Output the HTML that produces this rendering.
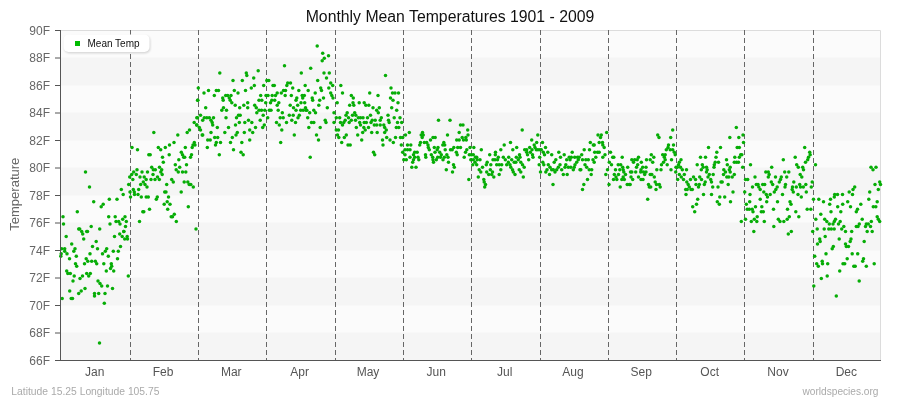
<!DOCTYPE html>
<html><head><meta charset="utf-8"><title>Monthly Mean Temperatures 1901 - 2009</title>
<style>
html,body{margin:0;padding:0;background:#fff;}
body{width:900px;height:400px;overflow:hidden;font-family:"Liberation Sans",sans-serif;}
svg{display:block}
text{font-family:"Liberation Sans",sans-serif;}
.yl{font-size:12px;fill:#666;text-anchor:end}
.xl{font-size:12px;fill:#555;text-anchor:middle}
.pt circle{fill:#06ad06}
</style></head><body>
<svg width="900" height="400" viewBox="0 0 900 400">
<rect x="0" y="0" width="900" height="400" fill="#ffffff"/>

<rect x="61" y="30.5" width="820" height="330" fill="#fbfbfb"/>
<rect x="61" y="57.5" width="820" height="28" fill="#f5f5f5"/>
<rect x="61" y="112.5" width="820" height="28" fill="#f5f5f5"/>
<rect x="61" y="167.5" width="820" height="28" fill="#f5f5f5"/>
<rect x="61" y="222.5" width="820" height="28" fill="#f5f5f5"/>
<rect x="61" y="277.5" width="820" height="28" fill="#f5f5f5"/>
<rect x="61" y="332.5" width="820" height="28" fill="#f5f5f5"/>
<path d="M61 30.5H880.5V360" fill="none" stroke="#dcdcdc" stroke-width="1"/>
<line x1="130.5" y1="30" x2="130.5" y2="360" stroke="#666" stroke-width="1" stroke-dasharray="5,3"/>
<line x1="198.5" y1="30" x2="198.5" y2="360" stroke="#666" stroke-width="1" stroke-dasharray="5,3"/>
<line x1="266.5" y1="30" x2="266.5" y2="360" stroke="#666" stroke-width="1" stroke-dasharray="5,3"/>
<line x1="335.5" y1="30" x2="335.5" y2="360" stroke="#666" stroke-width="1" stroke-dasharray="5,3"/>
<line x1="403.5" y1="30" x2="403.5" y2="360" stroke="#666" stroke-width="1" stroke-dasharray="5,3"/>
<line x1="471.5" y1="30" x2="471.5" y2="360" stroke="#666" stroke-width="1" stroke-dasharray="5,3"/>
<line x1="540.5" y1="30" x2="540.5" y2="360" stroke="#666" stroke-width="1" stroke-dasharray="5,3"/>
<line x1="608.5" y1="30" x2="608.5" y2="360" stroke="#666" stroke-width="1" stroke-dasharray="5,3"/>
<line x1="676.5" y1="30" x2="676.5" y2="360" stroke="#666" stroke-width="1" stroke-dasharray="5,3"/>
<line x1="744.5" y1="30" x2="744.5" y2="360" stroke="#666" stroke-width="1" stroke-dasharray="5,3"/>
<line x1="813.5" y1="30" x2="813.5" y2="360" stroke="#666" stroke-width="1" stroke-dasharray="5,3"/>
<defs><filter id="sh" x="-10%" y="-30%" width="120%" height="170%"><feGaussianBlur stdDeviation="0.9"/></filter></defs>
<rect x="64.3" y="35.8" width="86" height="17.5" rx="5" fill="#000" opacity="0.16" filter="url(#sh)"/>
<rect x="63.5" y="34.5" width="86" height="17.5" rx="5" fill="#fff"/>
<rect x="75" y="41" width="5" height="5" fill="#00bb00"/>
<text x="87.5" y="46.7" font-size="10" fill="#111">Mean Temp</text>
<g class="pt">
<circle cx="132.0" cy="147.4" r="1.75"/>
<circle cx="137.5" cy="149.8" r="1.75"/>
<circle cx="148.8" cy="154.8" r="1.75"/>
<circle cx="150.2" cy="154.8" r="1.75"/>
<circle cx="153.8" cy="132.5" r="1.75"/>
<circle cx="158.3" cy="147.4" r="1.75"/>
<circle cx="160.7" cy="149.8" r="1.75"/>
<circle cx="162.5" cy="157.3" r="1.75"/>
<circle cx="163.3" cy="162.2" r="1.75"/>
<circle cx="165.3" cy="147.4" r="1.75"/>
<circle cx="169.2" cy="154.8" r="1.75"/>
<circle cx="169.5" cy="144.9" r="1.75"/>
<circle cx="174.0" cy="142.4" r="1.75"/>
<circle cx="177.8" cy="135.0" r="1.75"/>
<circle cx="175.3" cy="164.7" r="1.75"/>
<circle cx="178.8" cy="159.8" r="1.75"/>
<circle cx="181.3" cy="152.3" r="1.75"/>
<circle cx="182.5" cy="154.8" r="1.75"/>
<circle cx="183.7" cy="157.3" r="1.75"/>
<circle cx="184.7" cy="157.3" r="1.75"/>
<circle cx="185.3" cy="147.4" r="1.75"/>
<circle cx="186.5" cy="164.7" r="1.75"/>
<circle cx="187.2" cy="132.5" r="1.75"/>
<circle cx="189.5" cy="130.1" r="1.75"/>
<circle cx="190.5" cy="157.3" r="1.75"/>
<circle cx="191.5" cy="154.8" r="1.75"/>
<circle cx="192.2" cy="147.4" r="1.75"/>
<circle cx="193.0" cy="144.9" r="1.75"/>
<circle cx="194.3" cy="142.4" r="1.75"/>
<circle cx="195.0" cy="144.9" r="1.75"/>
<circle cx="194.2" cy="122.6" r="1.75"/>
<circle cx="196.7" cy="125.1" r="1.75"/>
<circle cx="197.5" cy="117.7" r="1.75"/>
<circle cx="197.7" cy="100.3" r="1.75"/>
<circle cx="85.5" cy="172.1" r="1.75"/>
<circle cx="89.5" cy="187.0" r="1.75"/>
<circle cx="93.7" cy="201.8" r="1.75"/>
<circle cx="63.0" cy="216.7" r="1.75"/>
<circle cx="63.5" cy="224.1" r="1.75"/>
<circle cx="77.3" cy="211.7" r="1.75"/>
<circle cx="78.7" cy="229.1" r="1.75"/>
<circle cx="79.7" cy="229.1" r="1.75"/>
<circle cx="81.7" cy="231.5" r="1.75"/>
<circle cx="87.5" cy="231.5" r="1.75"/>
<circle cx="91.2" cy="226.6" r="1.75"/>
<circle cx="99.7" cy="229.1" r="1.75"/>
<circle cx="101.2" cy="206.8" r="1.75"/>
<circle cx="103.2" cy="204.3" r="1.75"/>
<circle cx="109.3" cy="199.3" r="1.75"/>
<circle cx="108.7" cy="216.7" r="1.75"/>
<circle cx="110.0" cy="224.1" r="1.75"/>
<circle cx="115.2" cy="216.7" r="1.75"/>
<circle cx="116.0" cy="221.6" r="1.75"/>
<circle cx="117.0" cy="199.3" r="1.75"/>
<circle cx="118.7" cy="221.6" r="1.75"/>
<circle cx="120.0" cy="224.1" r="1.75"/>
<circle cx="121.3" cy="189.4" r="1.75"/>
<circle cx="122.7" cy="219.2" r="1.75"/>
<circle cx="123.2" cy="194.4" r="1.75"/>
<circle cx="123.8" cy="231.5" r="1.75"/>
<circle cx="125.0" cy="216.7" r="1.75"/>
<circle cx="125.5" cy="226.6" r="1.75"/>
<circle cx="126.3" cy="221.6" r="1.75"/>
<circle cx="128.7" cy="184.5" r="1.75"/>
<circle cx="129.7" cy="177.1" r="1.75"/>
<circle cx="130.0" cy="191.9" r="1.75"/>
<circle cx="130.5" cy="196.9" r="1.75"/>
<circle cx="131.7" cy="174.6" r="1.75"/>
<circle cx="133.7" cy="172.1" r="1.75"/>
<circle cx="132.8" cy="179.6" r="1.75"/>
<circle cx="133.3" cy="189.4" r="1.75"/>
<circle cx="134.3" cy="191.9" r="1.75"/>
<circle cx="134.5" cy="194.4" r="1.75"/>
<circle cx="136.3" cy="174.6" r="1.75"/>
<circle cx="137.0" cy="169.7" r="1.75"/>
<circle cx="138.0" cy="194.4" r="1.75"/>
<circle cx="138.7" cy="189.4" r="1.75"/>
<circle cx="140.0" cy="177.1" r="1.75"/>
<circle cx="140.7" cy="184.5" r="1.75"/>
<circle cx="141.3" cy="196.9" r="1.75"/>
<circle cx="142.0" cy="172.1" r="1.75"/>
<circle cx="143.3" cy="182.0" r="1.75"/>
<circle cx="144.2" cy="177.1" r="1.75"/>
<circle cx="145.0" cy="184.5" r="1.75"/>
<circle cx="146.2" cy="179.6" r="1.75"/>
<circle cx="146.2" cy="196.9" r="1.75"/>
<circle cx="147.0" cy="187.0" r="1.75"/>
<circle cx="147.5" cy="172.1" r="1.75"/>
<circle cx="148.3" cy="196.9" r="1.75"/>
<circle cx="151.0" cy="179.6" r="1.75"/>
<circle cx="151.7" cy="167.2" r="1.75"/>
<circle cx="153.0" cy="174.6" r="1.75"/>
<circle cx="153.3" cy="169.7" r="1.75"/>
<circle cx="155.0" cy="179.6" r="1.75"/>
<circle cx="155.3" cy="169.7" r="1.75"/>
<circle cx="157.5" cy="177.1" r="1.75"/>
<circle cx="159.3" cy="179.6" r="1.75"/>
<circle cx="159.5" cy="167.2" r="1.75"/>
<circle cx="160.8" cy="172.1" r="1.75"/>
<circle cx="161.7" cy="169.7" r="1.75"/>
<circle cx="162.2" cy="174.6" r="1.75"/>
<circle cx="149.5" cy="209.2" r="1.75"/>
<circle cx="142.8" cy="211.7" r="1.75"/>
<circle cx="143.8" cy="211.7" r="1.75"/>
<circle cx="139.5" cy="221.6" r="1.75"/>
<circle cx="156.3" cy="199.3" r="1.75"/>
<circle cx="157.3" cy="196.9" r="1.75"/>
<circle cx="164.7" cy="191.9" r="1.75"/>
<circle cx="166.0" cy="191.9" r="1.75"/>
<circle cx="166.7" cy="184.5" r="1.75"/>
<circle cx="168.5" cy="196.9" r="1.75"/>
<circle cx="167.2" cy="201.8" r="1.75"/>
<circle cx="164.2" cy="204.3" r="1.75"/>
<circle cx="170.0" cy="204.3" r="1.75"/>
<circle cx="167.7" cy="209.2" r="1.75"/>
<circle cx="171.2" cy="216.7" r="1.75"/>
<circle cx="172.5" cy="216.7" r="1.75"/>
<circle cx="174.3" cy="214.2" r="1.75"/>
<circle cx="176.3" cy="221.6" r="1.75"/>
<circle cx="171.7" cy="179.6" r="1.75"/>
<circle cx="173.3" cy="182.0" r="1.75"/>
<circle cx="176.2" cy="169.7" r="1.75"/>
<circle cx="178.3" cy="172.1" r="1.75"/>
<circle cx="179.7" cy="167.2" r="1.75"/>
<circle cx="182.5" cy="172.1" r="1.75"/>
<circle cx="185.8" cy="172.1" r="1.75"/>
<circle cx="181.2" cy="191.9" r="1.75"/>
<circle cx="184.2" cy="182.0" r="1.75"/>
<circle cx="187.8" cy="182.0" r="1.75"/>
<circle cx="189.2" cy="184.5" r="1.75"/>
<circle cx="190.8" cy="184.5" r="1.75"/>
<circle cx="193.3" cy="187.0" r="1.75"/>
<circle cx="188.3" cy="206.8" r="1.75"/>
<circle cx="196.0" cy="229.1" r="1.75"/>
<circle cx="66.2" cy="236.5" r="1.75"/>
<circle cx="82.7" cy="234.0" r="1.75"/>
<circle cx="83.7" cy="238.9" r="1.75"/>
<circle cx="86.7" cy="231.5" r="1.75"/>
<circle cx="96.2" cy="241.4" r="1.75"/>
<circle cx="114.5" cy="236.5" r="1.75"/>
<circle cx="119.7" cy="234.0" r="1.75"/>
<circle cx="122.2" cy="236.5" r="1.75"/>
<circle cx="123.8" cy="231.5" r="1.75"/>
<circle cx="124.7" cy="238.9" r="1.75"/>
<circle cx="127.2" cy="236.5" r="1.75"/>
<circle cx="127.5" cy="238.9" r="1.75"/>
<circle cx="71.7" cy="243.9" r="1.75"/>
<circle cx="61.7" cy="248.8" r="1.75"/>
<circle cx="64.7" cy="248.8" r="1.75"/>
<circle cx="61.2" cy="253.8" r="1.75"/>
<circle cx="60.8" cy="256.3" r="1.75"/>
<circle cx="64.7" cy="251.3" r="1.75"/>
<circle cx="67.0" cy="253.8" r="1.75"/>
<circle cx="69.5" cy="258.8" r="1.75"/>
<circle cx="73.8" cy="251.3" r="1.75"/>
<circle cx="75.0" cy="248.8" r="1.75"/>
<circle cx="76.3" cy="256.3" r="1.75"/>
<circle cx="92.5" cy="246.4" r="1.75"/>
<circle cx="97.5" cy="248.8" r="1.75"/>
<circle cx="90.0" cy="253.8" r="1.75"/>
<circle cx="102.5" cy="253.8" r="1.75"/>
<circle cx="105.3" cy="251.3" r="1.75"/>
<circle cx="106.7" cy="248.8" r="1.75"/>
<circle cx="108.3" cy="256.3" r="1.75"/>
<circle cx="113.3" cy="251.3" r="1.75"/>
<circle cx="118.3" cy="251.3" r="1.75"/>
<circle cx="120.5" cy="246.4" r="1.75"/>
<circle cx="117.5" cy="258.8" r="1.75"/>
<circle cx="86.2" cy="258.8" r="1.75"/>
<circle cx="87.8" cy="261.2" r="1.75"/>
<circle cx="91.7" cy="261.2" r="1.75"/>
<circle cx="84.5" cy="263.7" r="1.75"/>
<circle cx="95.3" cy="261.2" r="1.75"/>
<circle cx="96.7" cy="263.7" r="1.75"/>
<circle cx="75.5" cy="263.7" r="1.75"/>
<circle cx="76.7" cy="266.2" r="1.75"/>
<circle cx="103.8" cy="263.7" r="1.75"/>
<circle cx="111.3" cy="263.7" r="1.75"/>
<circle cx="111.7" cy="266.2" r="1.75"/>
<circle cx="110.5" cy="268.6" r="1.75"/>
<circle cx="106.3" cy="271.1" r="1.75"/>
<circle cx="113.7" cy="271.1" r="1.75"/>
<circle cx="66.7" cy="271.1" r="1.75"/>
<circle cx="67.8" cy="273.6" r="1.75"/>
<circle cx="70.3" cy="273.6" r="1.75"/>
<circle cx="74.2" cy="276.1" r="1.75"/>
<circle cx="82.5" cy="276.1" r="1.75"/>
<circle cx="80.0" cy="278.6" r="1.75"/>
<circle cx="86.7" cy="273.6" r="1.75"/>
<circle cx="90.3" cy="273.6" r="1.75"/>
<circle cx="88.7" cy="276.1" r="1.75"/>
<circle cx="73.0" cy="281.0" r="1.75"/>
<circle cx="128.3" cy="276.1" r="1.75"/>
<circle cx="98.0" cy="281.0" r="1.75"/>
<circle cx="100.0" cy="283.5" r="1.75"/>
<circle cx="101.7" cy="286.0" r="1.75"/>
<circle cx="107.5" cy="286.0" r="1.75"/>
<circle cx="112.5" cy="288.4" r="1.75"/>
<circle cx="85.0" cy="288.4" r="1.75"/>
<circle cx="81.2" cy="290.9" r="1.75"/>
<circle cx="78.7" cy="293.4" r="1.75"/>
<circle cx="69.7" cy="290.9" r="1.75"/>
<circle cx="94.5" cy="293.4" r="1.75"/>
<circle cx="98.7" cy="293.4" r="1.75"/>
<circle cx="105.0" cy="293.4" r="1.75"/>
<circle cx="62.2" cy="298.4" r="1.75"/>
<circle cx="71.2" cy="298.4" r="1.75"/>
<circle cx="72.5" cy="298.4" r="1.75"/>
<circle cx="94.5" cy="295.9" r="1.75"/>
<circle cx="104.3" cy="303.3" r="1.75"/>
<circle cx="99.5" cy="342.9" r="1.75"/>
<circle cx="198.3" cy="88.0" r="1.75"/>
<circle cx="197.7" cy="100.3" r="1.75"/>
<circle cx="204.0" cy="92.9" r="1.75"/>
<circle cx="208.5" cy="90.5" r="1.75"/>
<circle cx="214.3" cy="95.4" r="1.75"/>
<circle cx="216.3" cy="90.5" r="1.75"/>
<circle cx="218.5" cy="90.5" r="1.75"/>
<circle cx="219.8" cy="73.1" r="1.75"/>
<circle cx="222.7" cy="97.9" r="1.75"/>
<circle cx="223.2" cy="100.3" r="1.75"/>
<circle cx="225.7" cy="95.4" r="1.75"/>
<circle cx="227.7" cy="95.4" r="1.75"/>
<circle cx="229.3" cy="97.9" r="1.75"/>
<circle cx="231.0" cy="95.4" r="1.75"/>
<circle cx="230.2" cy="100.3" r="1.75"/>
<circle cx="233.0" cy="80.5" r="1.75"/>
<circle cx="234.3" cy="90.5" r="1.75"/>
<circle cx="238.0" cy="92.9" r="1.75"/>
<circle cx="242.3" cy="80.5" r="1.75"/>
<circle cx="245.5" cy="90.5" r="1.75"/>
<circle cx="246.3" cy="73.1" r="1.75"/>
<circle cx="246.8" cy="75.6" r="1.75"/>
<circle cx="251.3" cy="88.0" r="1.75"/>
<circle cx="253.7" cy="78.1" r="1.75"/>
<circle cx="254.3" cy="85.5" r="1.75"/>
<circle cx="258.2" cy="70.7" r="1.75"/>
<circle cx="260.7" cy="95.4" r="1.75"/>
<circle cx="259.0" cy="100.3" r="1.75"/>
<circle cx="261.8" cy="100.3" r="1.75"/>
<circle cx="263.7" cy="85.5" r="1.75"/>
<circle cx="266.0" cy="95.4" r="1.75"/>
<circle cx="266.8" cy="80.5" r="1.75"/>
<circle cx="268.8" cy="80.5" r="1.75"/>
<circle cx="268.0" cy="95.4" r="1.75"/>
<circle cx="272.2" cy="95.4" r="1.75"/>
<circle cx="273.0" cy="85.5" r="1.75"/>
<circle cx="274.3" cy="85.5" r="1.75"/>
<circle cx="271.8" cy="100.3" r="1.75"/>
<circle cx="274.7" cy="100.3" r="1.75"/>
<circle cx="275.5" cy="95.4" r="1.75"/>
<circle cx="277.2" cy="92.9" r="1.75"/>
<circle cx="281.3" cy="92.9" r="1.75"/>
<circle cx="283.5" cy="90.5" r="1.75"/>
<circle cx="285.5" cy="90.5" r="1.75"/>
<circle cx="285.2" cy="95.4" r="1.75"/>
<circle cx="284.5" cy="65.7" r="1.75"/>
<circle cx="286.8" cy="85.5" r="1.75"/>
<circle cx="287.7" cy="83.0" r="1.75"/>
<circle cx="290.5" cy="83.0" r="1.75"/>
<circle cx="292.7" cy="88.0" r="1.75"/>
<circle cx="291.3" cy="95.4" r="1.75"/>
<circle cx="298.8" cy="90.5" r="1.75"/>
<circle cx="301.3" cy="73.1" r="1.75"/>
<circle cx="305.2" cy="85.5" r="1.75"/>
<circle cx="308.2" cy="90.5" r="1.75"/>
<circle cx="302.2" cy="95.4" r="1.75"/>
<circle cx="304.3" cy="95.4" r="1.75"/>
<circle cx="302.7" cy="97.9" r="1.75"/>
<circle cx="296.0" cy="100.3" r="1.75"/>
<circle cx="296.8" cy="97.9" r="1.75"/>
<circle cx="310.7" cy="68.2" r="1.75"/>
<circle cx="312.2" cy="97.9" r="1.75"/>
<circle cx="312.7" cy="100.3" r="1.75"/>
<circle cx="315.2" cy="92.9" r="1.75"/>
<circle cx="317.2" cy="45.9" r="1.75"/>
<circle cx="317.7" cy="80.5" r="1.75"/>
<circle cx="320.7" cy="88.0" r="1.75"/>
<circle cx="321.5" cy="90.5" r="1.75"/>
<circle cx="319.7" cy="100.3" r="1.75"/>
<circle cx="323.5" cy="97.9" r="1.75"/>
<circle cx="322.7" cy="53.3" r="1.75"/>
<circle cx="322.2" cy="60.8" r="1.75"/>
<circle cx="324.3" cy="58.3" r="1.75"/>
<circle cx="328.5" cy="55.8" r="1.75"/>
<circle cx="324.0" cy="73.1" r="1.75"/>
<circle cx="329.3" cy="73.1" r="1.75"/>
<circle cx="326.5" cy="78.1" r="1.75"/>
<circle cx="330.7" cy="83.0" r="1.75"/>
<circle cx="332.7" cy="85.5" r="1.75"/>
<circle cx="328.8" cy="88.0" r="1.75"/>
<circle cx="330.7" cy="92.9" r="1.75"/>
<circle cx="331.8" cy="95.4" r="1.75"/>
<circle cx="333.0" cy="97.9" r="1.75"/>
<circle cx="231.8" cy="102.8" r="1.75"/>
<circle cx="205.7" cy="107.8" r="1.75"/>
<circle cx="200.5" cy="115.2" r="1.75"/>
<circle cx="196.8" cy="117.7" r="1.75"/>
<circle cx="202.7" cy="120.2" r="1.75"/>
<circle cx="204.3" cy="117.7" r="1.75"/>
<circle cx="206.8" cy="117.7" r="1.75"/>
<circle cx="209.3" cy="117.7" r="1.75"/>
<circle cx="213.5" cy="117.7" r="1.75"/>
<circle cx="211.0" cy="120.2" r="1.75"/>
<circle cx="212.2" cy="122.6" r="1.75"/>
<circle cx="212.7" cy="125.1" r="1.75"/>
<circle cx="196.8" cy="125.1" r="1.75"/>
<circle cx="199.3" cy="127.6" r="1.75"/>
<circle cx="200.5" cy="130.1" r="1.75"/>
<circle cx="202.2" cy="135.0" r="1.75"/>
<circle cx="202.7" cy="135.0" r="1.75"/>
<circle cx="217.3" cy="127.6" r="1.75"/>
<circle cx="211.0" cy="132.5" r="1.75"/>
<circle cx="207.7" cy="139.9" r="1.75"/>
<circle cx="210.2" cy="139.9" r="1.75"/>
<circle cx="214.7" cy="137.5" r="1.75"/>
<circle cx="217.7" cy="137.5" r="1.75"/>
<circle cx="216.3" cy="142.4" r="1.75"/>
<circle cx="215.5" cy="144.9" r="1.75"/>
<circle cx="220.5" cy="142.4" r="1.75"/>
<circle cx="207.3" cy="147.4" r="1.75"/>
<circle cx="219.3" cy="154.8" r="1.75"/>
<circle cx="221.8" cy="110.2" r="1.75"/>
<circle cx="223.5" cy="107.8" r="1.75"/>
<circle cx="226.5" cy="110.2" r="1.75"/>
<circle cx="226.0" cy="117.7" r="1.75"/>
<circle cx="228.5" cy="127.6" r="1.75"/>
<circle cx="224.8" cy="132.5" r="1.75"/>
<circle cx="230.5" cy="142.4" r="1.75"/>
<circle cx="232.3" cy="137.5" r="1.75"/>
<circle cx="233.5" cy="149.8" r="1.75"/>
<circle cx="235.2" cy="105.3" r="1.75"/>
<circle cx="239.7" cy="107.8" r="1.75"/>
<circle cx="243.8" cy="105.3" r="1.75"/>
<circle cx="247.7" cy="102.8" r="1.75"/>
<circle cx="247.7" cy="107.8" r="1.75"/>
<circle cx="240.2" cy="115.2" r="1.75"/>
<circle cx="238.5" cy="115.2" r="1.75"/>
<circle cx="236.5" cy="117.7" r="1.75"/>
<circle cx="239.3" cy="122.6" r="1.75"/>
<circle cx="235.5" cy="125.1" r="1.75"/>
<circle cx="237.3" cy="132.5" r="1.75"/>
<circle cx="236.0" cy="135.0" r="1.75"/>
<circle cx="244.8" cy="122.6" r="1.75"/>
<circle cx="248.5" cy="120.2" r="1.75"/>
<circle cx="251.8" cy="122.6" r="1.75"/>
<circle cx="249.7" cy="130.1" r="1.75"/>
<circle cx="252.7" cy="132.5" r="1.75"/>
<circle cx="244.3" cy="132.5" r="1.75"/>
<circle cx="249.7" cy="139.9" r="1.75"/>
<circle cx="241.8" cy="142.4" r="1.75"/>
<circle cx="241.0" cy="152.3" r="1.75"/>
<circle cx="243.2" cy="154.8" r="1.75"/>
<circle cx="254.7" cy="105.3" r="1.75"/>
<circle cx="256.3" cy="107.8" r="1.75"/>
<circle cx="259.0" cy="110.2" r="1.75"/>
<circle cx="261.5" cy="110.2" r="1.75"/>
<circle cx="256.8" cy="112.7" r="1.75"/>
<circle cx="263.2" cy="115.2" r="1.75"/>
<circle cx="260.2" cy="120.2" r="1.75"/>
<circle cx="255.5" cy="127.6" r="1.75"/>
<circle cx="262.7" cy="127.6" r="1.75"/>
<circle cx="264.3" cy="125.1" r="1.75"/>
<circle cx="264.8" cy="110.2" r="1.75"/>
<circle cx="265.7" cy="102.8" r="1.75"/>
<circle cx="270.5" cy="102.8" r="1.75"/>
<circle cx="269.3" cy="110.2" r="1.75"/>
<circle cx="271.0" cy="110.2" r="1.75"/>
<circle cx="267.7" cy="117.7" r="1.75"/>
<circle cx="277.2" cy="105.3" r="1.75"/>
<circle cx="278.2" cy="110.2" r="1.75"/>
<circle cx="282.3" cy="112.7" r="1.75"/>
<circle cx="280.2" cy="117.7" r="1.75"/>
<circle cx="283.2" cy="117.7" r="1.75"/>
<circle cx="276.5" cy="122.6" r="1.75"/>
<circle cx="279.3" cy="125.1" r="1.75"/>
<circle cx="281.8" cy="130.1" r="1.75"/>
<circle cx="280.7" cy="142.4" r="1.75"/>
<circle cx="286.5" cy="122.6" r="1.75"/>
<circle cx="289.3" cy="115.2" r="1.75"/>
<circle cx="293.2" cy="115.2" r="1.75"/>
<circle cx="291.8" cy="120.2" r="1.75"/>
<circle cx="295.5" cy="122.6" r="1.75"/>
<circle cx="294.3" cy="135.0" r="1.75"/>
<circle cx="290.2" cy="105.3" r="1.75"/>
<circle cx="293.5" cy="107.8" r="1.75"/>
<circle cx="296.0" cy="110.2" r="1.75"/>
<circle cx="297.7" cy="105.3" r="1.75"/>
<circle cx="299.3" cy="115.2" r="1.75"/>
<circle cx="298.0" cy="117.7" r="1.75"/>
<circle cx="301.0" cy="102.8" r="1.75"/>
<circle cx="300.7" cy="110.2" r="1.75"/>
<circle cx="303.2" cy="110.2" r="1.75"/>
<circle cx="305.5" cy="107.8" r="1.75"/>
<circle cx="306.0" cy="110.2" r="1.75"/>
<circle cx="306.8" cy="110.2" r="1.75"/>
<circle cx="304.7" cy="102.8" r="1.75"/>
<circle cx="309.7" cy="112.7" r="1.75"/>
<circle cx="307.7" cy="117.7" r="1.75"/>
<circle cx="311.5" cy="122.6" r="1.75"/>
<circle cx="313.8" cy="122.6" r="1.75"/>
<circle cx="308.8" cy="127.6" r="1.75"/>
<circle cx="310.2" cy="157.3" r="1.75"/>
<circle cx="313.8" cy="110.2" r="1.75"/>
<circle cx="315.5" cy="112.7" r="1.75"/>
<circle cx="318.8" cy="105.3" r="1.75"/>
<circle cx="320.2" cy="127.6" r="1.75"/>
<circle cx="316.5" cy="135.0" r="1.75"/>
<circle cx="318.5" cy="139.9" r="1.75"/>
<circle cx="325.2" cy="120.2" r="1.75"/>
<circle cx="326.0" cy="122.6" r="1.75"/>
<circle cx="327.3" cy="107.8" r="1.75"/>
<circle cx="334.0" cy="112.7" r="1.75"/>
<circle cx="334.0" cy="122.6" r="1.75"/>
<circle cx="340.8" cy="85.5" r="1.75"/>
<circle cx="342.5" cy="92.9" r="1.75"/>
<circle cx="337.2" cy="102.8" r="1.75"/>
<circle cx="385.5" cy="75.6" r="1.75"/>
<circle cx="391.0" cy="88.0" r="1.75"/>
<circle cx="392.5" cy="92.9" r="1.75"/>
<circle cx="395.0" cy="92.9" r="1.75"/>
<circle cx="398.5" cy="92.9" r="1.75"/>
<circle cx="369.7" cy="92.9" r="1.75"/>
<circle cx="378.0" cy="95.4" r="1.75"/>
<circle cx="351.3" cy="95.4" r="1.75"/>
<circle cx="353.3" cy="97.9" r="1.75"/>
<circle cx="390.5" cy="97.9" r="1.75"/>
<circle cx="393.0" cy="100.3" r="1.75"/>
<circle cx="398.0" cy="102.8" r="1.75"/>
<circle cx="359.2" cy="102.8" r="1.75"/>
<circle cx="364.2" cy="102.8" r="1.75"/>
<circle cx="365.8" cy="105.3" r="1.75"/>
<circle cx="368.8" cy="105.3" r="1.75"/>
<circle cx="353.0" cy="102.8" r="1.75"/>
<circle cx="353.8" cy="105.3" r="1.75"/>
<circle cx="349.7" cy="105.3" r="1.75"/>
<circle cx="373.0" cy="107.8" r="1.75"/>
<circle cx="379.3" cy="107.8" r="1.75"/>
<circle cx="376.7" cy="110.2" r="1.75"/>
<circle cx="378.3" cy="112.7" r="1.75"/>
<circle cx="391.7" cy="107.8" r="1.75"/>
<circle cx="396.7" cy="110.2" r="1.75"/>
<circle cx="347.2" cy="112.7" r="1.75"/>
<circle cx="346.0" cy="115.2" r="1.75"/>
<circle cx="354.7" cy="112.7" r="1.75"/>
<circle cx="352.5" cy="115.2" r="1.75"/>
<circle cx="355.8" cy="115.2" r="1.75"/>
<circle cx="370.5" cy="115.2" r="1.75"/>
<circle cx="388.0" cy="115.2" r="1.75"/>
<circle cx="394.2" cy="117.7" r="1.75"/>
<circle cx="400.0" cy="117.7" r="1.75"/>
<circle cx="336.3" cy="117.7" r="1.75"/>
<circle cx="339.7" cy="117.7" r="1.75"/>
<circle cx="348.5" cy="117.7" r="1.75"/>
<circle cx="358.3" cy="117.7" r="1.75"/>
<circle cx="360.5" cy="117.7" r="1.75"/>
<circle cx="363.0" cy="117.7" r="1.75"/>
<circle cx="367.5" cy="117.7" r="1.75"/>
<circle cx="381.3" cy="117.7" r="1.75"/>
<circle cx="380.2" cy="120.2" r="1.75"/>
<circle cx="372.2" cy="120.2" r="1.75"/>
<circle cx="375.2" cy="120.2" r="1.75"/>
<circle cx="388.5" cy="120.2" r="1.75"/>
<circle cx="389.2" cy="122.6" r="1.75"/>
<circle cx="351.3" cy="120.2" r="1.75"/>
<circle cx="355.5" cy="120.2" r="1.75"/>
<circle cx="345.2" cy="120.2" r="1.75"/>
<circle cx="343.8" cy="122.6" r="1.75"/>
<circle cx="340.5" cy="122.6" r="1.75"/>
<circle cx="342.5" cy="125.1" r="1.75"/>
<circle cx="349.2" cy="122.6" r="1.75"/>
<circle cx="359.7" cy="122.6" r="1.75"/>
<circle cx="360.5" cy="125.1" r="1.75"/>
<circle cx="364.2" cy="122.6" r="1.75"/>
<circle cx="366.3" cy="122.6" r="1.75"/>
<circle cx="371.0" cy="122.6" r="1.75"/>
<circle cx="374.3" cy="125.1" r="1.75"/>
<circle cx="376.7" cy="125.1" r="1.75"/>
<circle cx="380.2" cy="125.1" r="1.75"/>
<circle cx="383.8" cy="125.1" r="1.75"/>
<circle cx="397.5" cy="122.6" r="1.75"/>
<circle cx="401.7" cy="122.6" r="1.75"/>
<circle cx="438.5" cy="120.2" r="1.75"/>
<circle cx="450.0" cy="120.2" r="1.75"/>
<circle cx="460.5" cy="125.1" r="1.75"/>
<circle cx="463.0" cy="125.1" r="1.75"/>
<circle cx="336.3" cy="130.1" r="1.75"/>
<circle cx="338.5" cy="130.1" r="1.75"/>
<circle cx="337.5" cy="135.0" r="1.75"/>
<circle cx="338.8" cy="137.5" r="1.75"/>
<circle cx="341.7" cy="142.4" r="1.75"/>
<circle cx="346.3" cy="135.0" r="1.75"/>
<circle cx="344.3" cy="137.5" r="1.75"/>
<circle cx="348.0" cy="144.9" r="1.75"/>
<circle cx="350.2" cy="144.9" r="1.75"/>
<circle cx="356.3" cy="127.6" r="1.75"/>
<circle cx="357.7" cy="135.0" r="1.75"/>
<circle cx="361.7" cy="139.9" r="1.75"/>
<circle cx="362.7" cy="132.5" r="1.75"/>
<circle cx="363.8" cy="127.6" r="1.75"/>
<circle cx="365.2" cy="130.1" r="1.75"/>
<circle cx="368.5" cy="127.6" r="1.75"/>
<circle cx="371.7" cy="132.5" r="1.75"/>
<circle cx="377.2" cy="132.5" r="1.75"/>
<circle cx="373.5" cy="152.3" r="1.75"/>
<circle cx="374.7" cy="154.8" r="1.75"/>
<circle cx="382.5" cy="139.9" r="1.75"/>
<circle cx="383.0" cy="144.9" r="1.75"/>
<circle cx="384.7" cy="132.5" r="1.75"/>
<circle cx="386.3" cy="130.1" r="1.75"/>
<circle cx="384.7" cy="127.6" r="1.75"/>
<circle cx="386.7" cy="137.5" r="1.75"/>
<circle cx="390.0" cy="139.9" r="1.75"/>
<circle cx="393.3" cy="142.4" r="1.75"/>
<circle cx="395.5" cy="137.5" r="1.75"/>
<circle cx="396.3" cy="127.6" r="1.75"/>
<circle cx="398.8" cy="127.6" r="1.75"/>
<circle cx="400.5" cy="137.5" r="1.75"/>
<circle cx="402.7" cy="137.5" r="1.75"/>
<circle cx="401.3" cy="144.9" r="1.75"/>
<circle cx="405.5" cy="135.0" r="1.75"/>
<circle cx="409.3" cy="132.5" r="1.75"/>
<circle cx="407.5" cy="144.9" r="1.75"/>
<circle cx="410.8" cy="144.9" r="1.75"/>
<circle cx="405.0" cy="149.8" r="1.75"/>
<circle cx="407.5" cy="149.8" r="1.75"/>
<circle cx="410.0" cy="149.8" r="1.75"/>
<circle cx="402.7" cy="152.3" r="1.75"/>
<circle cx="405.0" cy="154.8" r="1.75"/>
<circle cx="403.8" cy="159.8" r="1.75"/>
<circle cx="406.3" cy="159.8" r="1.75"/>
<circle cx="410.0" cy="157.3" r="1.75"/>
<circle cx="413.5" cy="154.8" r="1.75"/>
<circle cx="414.7" cy="152.3" r="1.75"/>
<circle cx="417.2" cy="152.3" r="1.75"/>
<circle cx="414.7" cy="157.3" r="1.75"/>
<circle cx="413.5" cy="159.8" r="1.75"/>
<circle cx="412.7" cy="162.2" r="1.75"/>
<circle cx="418.0" cy="157.3" r="1.75"/>
<circle cx="418.8" cy="159.8" r="1.75"/>
<circle cx="411.8" cy="167.2" r="1.75"/>
<circle cx="416.0" cy="167.2" r="1.75"/>
<circle cx="422.5" cy="132.5" r="1.75"/>
<circle cx="422.5" cy="135.0" r="1.75"/>
<circle cx="422.2" cy="137.5" r="1.75"/>
<circle cx="420.5" cy="142.4" r="1.75"/>
<circle cx="419.7" cy="144.9" r="1.75"/>
<circle cx="424.3" cy="142.4" r="1.75"/>
<circle cx="426.7" cy="142.4" r="1.75"/>
<circle cx="428.0" cy="144.9" r="1.75"/>
<circle cx="428.3" cy="147.4" r="1.75"/>
<circle cx="429.3" cy="149.8" r="1.75"/>
<circle cx="425.5" cy="154.8" r="1.75"/>
<circle cx="425.8" cy="157.3" r="1.75"/>
<circle cx="431.3" cy="154.8" r="1.75"/>
<circle cx="430.5" cy="139.9" r="1.75"/>
<circle cx="433.0" cy="137.5" r="1.75"/>
<circle cx="435.2" cy="137.5" r="1.75"/>
<circle cx="434.3" cy="147.4" r="1.75"/>
<circle cx="438.0" cy="147.4" r="1.75"/>
<circle cx="437.2" cy="149.8" r="1.75"/>
<circle cx="435.0" cy="152.3" r="1.75"/>
<circle cx="432.7" cy="157.3" r="1.75"/>
<circle cx="433.0" cy="159.8" r="1.75"/>
<circle cx="433.5" cy="162.2" r="1.75"/>
<circle cx="436.3" cy="159.8" r="1.75"/>
<circle cx="437.7" cy="157.3" r="1.75"/>
<circle cx="439.7" cy="152.3" r="1.75"/>
<circle cx="441.3" cy="154.8" r="1.75"/>
<circle cx="440.5" cy="157.3" r="1.75"/>
<circle cx="443.0" cy="159.8" r="1.75"/>
<circle cx="443.8" cy="142.4" r="1.75"/>
<circle cx="444.7" cy="144.9" r="1.75"/>
<circle cx="445.2" cy="149.8" r="1.75"/>
<circle cx="444.3" cy="157.3" r="1.75"/>
<circle cx="446.8" cy="154.8" r="1.75"/>
<circle cx="448.0" cy="157.3" r="1.75"/>
<circle cx="448.5" cy="162.2" r="1.75"/>
<circle cx="447.5" cy="135.0" r="1.75"/>
<circle cx="446.3" cy="169.7" r="1.75"/>
<circle cx="452.5" cy="172.1" r="1.75"/>
<circle cx="453.5" cy="164.7" r="1.75"/>
<circle cx="454.3" cy="167.2" r="1.75"/>
<circle cx="450.5" cy="149.8" r="1.75"/>
<circle cx="452.2" cy="149.8" r="1.75"/>
<circle cx="453.8" cy="147.4" r="1.75"/>
<circle cx="456.3" cy="152.3" r="1.75"/>
<circle cx="457.2" cy="154.8" r="1.75"/>
<circle cx="457.7" cy="147.4" r="1.75"/>
<circle cx="460.5" cy="147.4" r="1.75"/>
<circle cx="456.7" cy="139.9" r="1.75"/>
<circle cx="459.2" cy="139.9" r="1.75"/>
<circle cx="459.2" cy="132.5" r="1.75"/>
<circle cx="462.2" cy="137.5" r="1.75"/>
<circle cx="463.5" cy="139.9" r="1.75"/>
<circle cx="465.8" cy="137.5" r="1.75"/>
<circle cx="466.3" cy="139.9" r="1.75"/>
<circle cx="467.7" cy="130.1" r="1.75"/>
<circle cx="468.0" cy="135.0" r="1.75"/>
<circle cx="466.8" cy="149.8" r="1.75"/>
<circle cx="465.5" cy="152.3" r="1.75"/>
<circle cx="464.2" cy="157.3" r="1.75"/>
<circle cx="469.3" cy="154.8" r="1.75"/>
<circle cx="470.0" cy="147.4" r="1.75"/>
<circle cx="468.8" cy="179.6" r="1.75"/>
<circle cx="473.8" cy="147.4" r="1.75"/>
<circle cx="471.3" cy="154.8" r="1.75"/>
<circle cx="473.3" cy="154.8" r="1.75"/>
<circle cx="475.5" cy="157.3" r="1.75"/>
<circle cx="476.7" cy="157.3" r="1.75"/>
<circle cx="470.8" cy="159.8" r="1.75"/>
<circle cx="473.3" cy="159.8" r="1.75"/>
<circle cx="475.0" cy="162.2" r="1.75"/>
<circle cx="477.2" cy="159.8" r="1.75"/>
<circle cx="480.0" cy="159.8" r="1.75"/>
<circle cx="472.8" cy="164.7" r="1.75"/>
<circle cx="476.7" cy="164.7" r="1.75"/>
<circle cx="481.3" cy="149.8" r="1.75"/>
<circle cx="479.2" cy="169.7" r="1.75"/>
<circle cx="480.8" cy="172.1" r="1.75"/>
<circle cx="482.5" cy="167.2" r="1.75"/>
<circle cx="478.3" cy="177.1" r="1.75"/>
<circle cx="483.8" cy="179.6" r="1.75"/>
<circle cx="484.2" cy="182.0" r="1.75"/>
<circle cx="485.5" cy="184.5" r="1.75"/>
<circle cx="484.7" cy="187.0" r="1.75"/>
<circle cx="486.3" cy="164.7" r="1.75"/>
<circle cx="487.2" cy="162.2" r="1.75"/>
<circle cx="486.7" cy="172.1" r="1.75"/>
<circle cx="488.7" cy="174.6" r="1.75"/>
<circle cx="489.7" cy="154.8" r="1.75"/>
<circle cx="490.8" cy="164.7" r="1.75"/>
<circle cx="490.3" cy="169.7" r="1.75"/>
<circle cx="492.5" cy="172.1" r="1.75"/>
<circle cx="491.7" cy="174.6" r="1.75"/>
<circle cx="493.8" cy="177.1" r="1.75"/>
<circle cx="493.0" cy="159.8" r="1.75"/>
<circle cx="495.0" cy="159.8" r="1.75"/>
<circle cx="495.5" cy="152.3" r="1.75"/>
<circle cx="495.3" cy="154.8" r="1.75"/>
<circle cx="496.7" cy="164.7" r="1.75"/>
<circle cx="498.3" cy="157.3" r="1.75"/>
<circle cx="497.5" cy="159.8" r="1.75"/>
<circle cx="499.2" cy="164.7" r="1.75"/>
<circle cx="501.7" cy="164.7" r="1.75"/>
<circle cx="500.8" cy="149.8" r="1.75"/>
<circle cx="500.8" cy="169.7" r="1.75"/>
<circle cx="499.2" cy="174.6" r="1.75"/>
<circle cx="503.3" cy="157.3" r="1.75"/>
<circle cx="504.2" cy="144.9" r="1.75"/>
<circle cx="505.3" cy="159.8" r="1.75"/>
<circle cx="506.7" cy="164.7" r="1.75"/>
<circle cx="508.7" cy="157.3" r="1.75"/>
<circle cx="508.3" cy="162.2" r="1.75"/>
<circle cx="510.0" cy="164.7" r="1.75"/>
<circle cx="510.5" cy="142.4" r="1.75"/>
<circle cx="510.8" cy="167.2" r="1.75"/>
<circle cx="511.7" cy="159.8" r="1.75"/>
<circle cx="512.8" cy="149.8" r="1.75"/>
<circle cx="512.5" cy="169.7" r="1.75"/>
<circle cx="513.3" cy="172.1" r="1.75"/>
<circle cx="515.0" cy="174.6" r="1.75"/>
<circle cx="514.2" cy="162.2" r="1.75"/>
<circle cx="516.7" cy="147.4" r="1.75"/>
<circle cx="516.3" cy="157.3" r="1.75"/>
<circle cx="515.8" cy="162.2" r="1.75"/>
<circle cx="518.3" cy="159.8" r="1.75"/>
<circle cx="519.5" cy="154.8" r="1.75"/>
<circle cx="520.0" cy="157.3" r="1.75"/>
<circle cx="520.8" cy="162.2" r="1.75"/>
<circle cx="519.2" cy="169.7" r="1.75"/>
<circle cx="520.8" cy="172.1" r="1.75"/>
<circle cx="522.5" cy="164.7" r="1.75"/>
<circle cx="524.2" cy="167.2" r="1.75"/>
<circle cx="523.3" cy="177.1" r="1.75"/>
<circle cx="522.2" cy="130.1" r="1.75"/>
<circle cx="524.7" cy="149.8" r="1.75"/>
<circle cx="526.7" cy="149.8" r="1.75"/>
<circle cx="526.7" cy="152.3" r="1.75"/>
<circle cx="527.5" cy="154.8" r="1.75"/>
<circle cx="528.7" cy="159.8" r="1.75"/>
<circle cx="529.7" cy="147.4" r="1.75"/>
<circle cx="530.3" cy="152.3" r="1.75"/>
<circle cx="532.0" cy="149.8" r="1.75"/>
<circle cx="532.5" cy="154.8" r="1.75"/>
<circle cx="533.0" cy="157.3" r="1.75"/>
<circle cx="531.7" cy="139.9" r="1.75"/>
<circle cx="534.2" cy="144.9" r="1.75"/>
<circle cx="535.0" cy="147.4" r="1.75"/>
<circle cx="536.7" cy="142.4" r="1.75"/>
<circle cx="536.3" cy="149.8" r="1.75"/>
<circle cx="537.8" cy="135.0" r="1.75"/>
<circle cx="538.0" cy="149.8" r="1.75"/>
<circle cx="539.7" cy="157.3" r="1.75"/>
<circle cx="539.2" cy="164.7" r="1.75"/>
<circle cx="540.0" cy="149.8" r="1.75"/>
<circle cx="540.5" cy="172.1" r="1.75"/>
<circle cx="542.5" cy="142.4" r="1.75"/>
<circle cx="541.3" cy="149.8" r="1.75"/>
<circle cx="543.3" cy="152.3" r="1.75"/>
<circle cx="545.5" cy="147.4" r="1.75"/>
<circle cx="544.5" cy="154.8" r="1.75"/>
<circle cx="547.8" cy="152.3" r="1.75"/>
<circle cx="542.8" cy="162.2" r="1.75"/>
<circle cx="543.8" cy="164.7" r="1.75"/>
<circle cx="547.0" cy="169.7" r="1.75"/>
<circle cx="545.8" cy="172.1" r="1.75"/>
<circle cx="548.3" cy="164.7" r="1.75"/>
<circle cx="550.0" cy="167.2" r="1.75"/>
<circle cx="549.5" cy="174.6" r="1.75"/>
<circle cx="551.7" cy="154.8" r="1.75"/>
<circle cx="551.7" cy="169.7" r="1.75"/>
<circle cx="553.0" cy="184.5" r="1.75"/>
<circle cx="553.3" cy="169.7" r="1.75"/>
<circle cx="554.2" cy="162.2" r="1.75"/>
<circle cx="555.0" cy="172.1" r="1.75"/>
<circle cx="555.8" cy="159.8" r="1.75"/>
<circle cx="556.7" cy="169.7" r="1.75"/>
<circle cx="558.3" cy="167.2" r="1.75"/>
<circle cx="558.8" cy="152.3" r="1.75"/>
<circle cx="560.0" cy="164.7" r="1.75"/>
<circle cx="560.5" cy="157.3" r="1.75"/>
<circle cx="561.7" cy="169.7" r="1.75"/>
<circle cx="563.3" cy="174.6" r="1.75"/>
<circle cx="564.2" cy="154.8" r="1.75"/>
<circle cx="565.0" cy="167.2" r="1.75"/>
<circle cx="565.8" cy="164.7" r="1.75"/>
<circle cx="566.7" cy="159.8" r="1.75"/>
<circle cx="567.2" cy="174.6" r="1.75"/>
<circle cx="568.3" cy="167.2" r="1.75"/>
<circle cx="569.2" cy="157.3" r="1.75"/>
<circle cx="570.0" cy="159.8" r="1.75"/>
<circle cx="570.8" cy="167.2" r="1.75"/>
<circle cx="571.3" cy="157.3" r="1.75"/>
<circle cx="572.2" cy="152.3" r="1.75"/>
<circle cx="573.3" cy="169.7" r="1.75"/>
<circle cx="574.2" cy="167.2" r="1.75"/>
<circle cx="575.0" cy="164.7" r="1.75"/>
<circle cx="574.7" cy="157.3" r="1.75"/>
<circle cx="576.7" cy="162.2" r="1.75"/>
<circle cx="577.5" cy="157.3" r="1.75"/>
<circle cx="578.3" cy="159.8" r="1.75"/>
<circle cx="579.2" cy="157.3" r="1.75"/>
<circle cx="580.0" cy="169.7" r="1.75"/>
<circle cx="580.8" cy="169.7" r="1.75"/>
<circle cx="581.7" cy="154.8" r="1.75"/>
<circle cx="582.5" cy="159.8" r="1.75"/>
<circle cx="584.2" cy="149.8" r="1.75"/>
<circle cx="585.0" cy="164.7" r="1.75"/>
<circle cx="585.8" cy="159.8" r="1.75"/>
<circle cx="586.7" cy="167.2" r="1.75"/>
<circle cx="588.3" cy="159.8" r="1.75"/>
<circle cx="589.2" cy="169.7" r="1.75"/>
<circle cx="589.5" cy="149.8" r="1.75"/>
<circle cx="590.3" cy="142.4" r="1.75"/>
<circle cx="591.2" cy="174.6" r="1.75"/>
<circle cx="591.7" cy="169.7" r="1.75"/>
<circle cx="593.3" cy="144.9" r="1.75"/>
<circle cx="594.2" cy="144.9" r="1.75"/>
<circle cx="593.0" cy="159.8" r="1.75"/>
<circle cx="594.2" cy="162.2" r="1.75"/>
<circle cx="594.7" cy="152.3" r="1.75"/>
<circle cx="595.8" cy="157.3" r="1.75"/>
<circle cx="597.5" cy="152.3" r="1.75"/>
<circle cx="599.2" cy="152.3" r="1.75"/>
<circle cx="598.0" cy="135.0" r="1.75"/>
<circle cx="599.2" cy="142.4" r="1.75"/>
<circle cx="600.5" cy="137.5" r="1.75"/>
<circle cx="601.3" cy="135.0" r="1.75"/>
<circle cx="602.5" cy="142.4" r="1.75"/>
<circle cx="602.8" cy="144.9" r="1.75"/>
<circle cx="604.2" cy="147.4" r="1.75"/>
<circle cx="602.8" cy="157.3" r="1.75"/>
<circle cx="605.0" cy="154.8" r="1.75"/>
<circle cx="606.7" cy="132.5" r="1.75"/>
<circle cx="607.5" cy="169.7" r="1.75"/>
<circle cx="605.8" cy="174.6" r="1.75"/>
<circle cx="587.5" cy="179.6" r="1.75"/>
<circle cx="583.8" cy="184.5" r="1.75"/>
<circle cx="582.5" cy="189.4" r="1.75"/>
<circle cx="610.5" cy="152.3" r="1.75"/>
<circle cx="612.7" cy="157.3" r="1.75"/>
<circle cx="613.8" cy="157.3" r="1.75"/>
<circle cx="622.2" cy="157.3" r="1.75"/>
<circle cx="609.3" cy="162.2" r="1.75"/>
<circle cx="611.5" cy="164.7" r="1.75"/>
<circle cx="618.2" cy="164.7" r="1.75"/>
<circle cx="620.7" cy="164.7" r="1.75"/>
<circle cx="615.5" cy="169.7" r="1.75"/>
<circle cx="619.8" cy="169.7" r="1.75"/>
<circle cx="622.7" cy="167.2" r="1.75"/>
<circle cx="623.2" cy="169.7" r="1.75"/>
<circle cx="627.7" cy="167.2" r="1.75"/>
<circle cx="631.8" cy="159.8" r="1.75"/>
<circle cx="633.5" cy="162.2" r="1.75"/>
<circle cx="634.7" cy="159.8" r="1.75"/>
<circle cx="637.2" cy="159.8" r="1.75"/>
<circle cx="638.5" cy="157.3" r="1.75"/>
<circle cx="641.3" cy="162.2" r="1.75"/>
<circle cx="637.7" cy="164.7" r="1.75"/>
<circle cx="636.5" cy="167.2" r="1.75"/>
<circle cx="641.0" cy="169.7" r="1.75"/>
<circle cx="642.7" cy="167.2" r="1.75"/>
<circle cx="646.0" cy="167.2" r="1.75"/>
<circle cx="646.5" cy="159.8" r="1.75"/>
<circle cx="650.2" cy="159.8" r="1.75"/>
<circle cx="651.3" cy="154.8" r="1.75"/>
<circle cx="652.7" cy="162.2" r="1.75"/>
<circle cx="653.8" cy="157.3" r="1.75"/>
<circle cx="657.7" cy="135.0" r="1.75"/>
<circle cx="659.0" cy="137.5" r="1.75"/>
<circle cx="656.8" cy="169.7" r="1.75"/>
<circle cx="661.0" cy="169.7" r="1.75"/>
<circle cx="661.5" cy="164.7" r="1.75"/>
<circle cx="663.5" cy="162.2" r="1.75"/>
<circle cx="662.7" cy="154.8" r="1.75"/>
<circle cx="665.2" cy="154.8" r="1.75"/>
<circle cx="664.3" cy="157.3" r="1.75"/>
<circle cx="665.2" cy="159.8" r="1.75"/>
<circle cx="666.3" cy="149.8" r="1.75"/>
<circle cx="668.5" cy="144.9" r="1.75"/>
<circle cx="668.0" cy="147.4" r="1.75"/>
<circle cx="670.2" cy="149.8" r="1.75"/>
<circle cx="670.7" cy="137.5" r="1.75"/>
<circle cx="672.7" cy="130.1" r="1.75"/>
<circle cx="673.5" cy="144.9" r="1.75"/>
<circle cx="672.7" cy="149.8" r="1.75"/>
<circle cx="674.3" cy="152.3" r="1.75"/>
<circle cx="675.2" cy="154.8" r="1.75"/>
<circle cx="671.5" cy="159.8" r="1.75"/>
<circle cx="667.2" cy="164.7" r="1.75"/>
<circle cx="671.0" cy="169.7" r="1.75"/>
<circle cx="676.0" cy="167.2" r="1.75"/>
<circle cx="681.0" cy="159.8" r="1.75"/>
<circle cx="679.3" cy="162.2" r="1.75"/>
<circle cx="678.5" cy="164.7" r="1.75"/>
<circle cx="677.3" cy="167.2" r="1.75"/>
<circle cx="680.5" cy="167.2" r="1.75"/>
<circle cx="682.3" cy="169.7" r="1.75"/>
<circle cx="686.5" cy="169.7" r="1.75"/>
<circle cx="697.2" cy="164.7" r="1.75"/>
<circle cx="700.5" cy="157.3" r="1.75"/>
<circle cx="702.3" cy="164.7" r="1.75"/>
<circle cx="703.2" cy="167.2" r="1.75"/>
<circle cx="701.3" cy="169.7" r="1.75"/>
<circle cx="705.5" cy="157.3" r="1.75"/>
<circle cx="706.5" cy="167.2" r="1.75"/>
<circle cx="707.2" cy="169.7" r="1.75"/>
<circle cx="708.5" cy="147.4" r="1.75"/>
<circle cx="715.2" cy="162.2" r="1.75"/>
<circle cx="714.3" cy="164.7" r="1.75"/>
<circle cx="714.0" cy="167.2" r="1.75"/>
<circle cx="716.0" cy="157.3" r="1.75"/>
<circle cx="716.8" cy="152.3" r="1.75"/>
<circle cx="718.5" cy="162.2" r="1.75"/>
<circle cx="720.5" cy="147.4" r="1.75"/>
<circle cx="726.5" cy="159.8" r="1.75"/>
<circle cx="727.3" cy="164.7" r="1.75"/>
<circle cx="723.8" cy="169.7" r="1.75"/>
<circle cx="730.2" cy="167.2" r="1.75"/>
<circle cx="729.3" cy="169.7" r="1.75"/>
<circle cx="729.8" cy="137.5" r="1.75"/>
<circle cx="734.3" cy="162.2" r="1.75"/>
<circle cx="736.5" cy="162.2" r="1.75"/>
<circle cx="738.5" cy="162.2" r="1.75"/>
<circle cx="734.8" cy="157.3" r="1.75"/>
<circle cx="739.3" cy="157.3" r="1.75"/>
<circle cx="740.7" cy="154.8" r="1.75"/>
<circle cx="741.8" cy="154.8" r="1.75"/>
<circle cx="737.2" cy="147.4" r="1.75"/>
<circle cx="739.3" cy="147.4" r="1.75"/>
<circle cx="736.3" cy="127.6" r="1.75"/>
<circle cx="738.8" cy="137.5" r="1.75"/>
<circle cx="743.0" cy="135.0" r="1.75"/>
<circle cx="743.5" cy="142.4" r="1.75"/>
<circle cx="742.7" cy="167.2" r="1.75"/>
<circle cx="623.8" cy="172.1" r="1.75"/>
<circle cx="630.5" cy="172.1" r="1.75"/>
<circle cx="631.8" cy="172.1" r="1.75"/>
<circle cx="635.7" cy="172.1" r="1.75"/>
<circle cx="640.7" cy="172.1" r="1.75"/>
<circle cx="643.5" cy="172.1" r="1.75"/>
<circle cx="646.0" cy="172.1" r="1.75"/>
<circle cx="614.3" cy="174.6" r="1.75"/>
<circle cx="618.5" cy="174.6" r="1.75"/>
<circle cx="625.5" cy="174.6" r="1.75"/>
<circle cx="644.7" cy="174.6" r="1.75"/>
<circle cx="650.2" cy="174.6" r="1.75"/>
<circle cx="651.8" cy="174.6" r="1.75"/>
<circle cx="616.0" cy="177.1" r="1.75"/>
<circle cx="623.2" cy="177.1" r="1.75"/>
<circle cx="631.0" cy="177.1" r="1.75"/>
<circle cx="638.5" cy="177.1" r="1.75"/>
<circle cx="654.3" cy="177.1" r="1.75"/>
<circle cx="613.5" cy="179.6" r="1.75"/>
<circle cx="616.8" cy="179.6" r="1.75"/>
<circle cx="621.8" cy="179.6" r="1.75"/>
<circle cx="624.3" cy="179.6" r="1.75"/>
<circle cx="632.7" cy="179.6" r="1.75"/>
<circle cx="641.0" cy="179.6" r="1.75"/>
<circle cx="643.0" cy="179.6" r="1.75"/>
<circle cx="655.2" cy="182.0" r="1.75"/>
<circle cx="609.0" cy="184.5" r="1.75"/>
<circle cx="627.2" cy="184.5" r="1.75"/>
<circle cx="629.3" cy="184.5" r="1.75"/>
<circle cx="630.2" cy="184.5" r="1.75"/>
<circle cx="648.5" cy="184.5" r="1.75"/>
<circle cx="656.5" cy="184.5" r="1.75"/>
<circle cx="659.3" cy="184.5" r="1.75"/>
<circle cx="620.2" cy="187.0" r="1.75"/>
<circle cx="649.3" cy="187.0" r="1.75"/>
<circle cx="650.7" cy="187.0" r="1.75"/>
<circle cx="660.2" cy="187.0" r="1.75"/>
<circle cx="656.0" cy="189.4" r="1.75"/>
<circle cx="647.7" cy="199.3" r="1.75"/>
<circle cx="675.7" cy="172.1" r="1.75"/>
<circle cx="706.5" cy="172.1" r="1.75"/>
<circle cx="725.5" cy="172.1" r="1.75"/>
<circle cx="730.2" cy="172.1" r="1.75"/>
<circle cx="679.3" cy="174.6" r="1.75"/>
<circle cx="684.3" cy="174.6" r="1.75"/>
<circle cx="709.3" cy="174.6" r="1.75"/>
<circle cx="713.2" cy="174.6" r="1.75"/>
<circle cx="723.5" cy="174.6" r="1.75"/>
<circle cx="734.3" cy="174.6" r="1.75"/>
<circle cx="681.3" cy="177.1" r="1.75"/>
<circle cx="693.5" cy="177.1" r="1.75"/>
<circle cx="699.7" cy="177.1" r="1.75"/>
<circle cx="708.0" cy="177.1" r="1.75"/>
<circle cx="726.8" cy="177.1" r="1.75"/>
<circle cx="728.8" cy="177.1" r="1.75"/>
<circle cx="732.2" cy="177.1" r="1.75"/>
<circle cx="677.7" cy="179.6" r="1.75"/>
<circle cx="683.5" cy="179.6" r="1.75"/>
<circle cx="690.5" cy="179.6" r="1.75"/>
<circle cx="695.5" cy="179.6" r="1.75"/>
<circle cx="701.5" cy="179.6" r="1.75"/>
<circle cx="710.7" cy="179.6" r="1.75"/>
<circle cx="686.8" cy="182.0" r="1.75"/>
<circle cx="705.2" cy="182.0" r="1.75"/>
<circle cx="711.5" cy="182.0" r="1.75"/>
<circle cx="721.0" cy="182.0" r="1.75"/>
<circle cx="722.2" cy="182.0" r="1.75"/>
<circle cx="688.2" cy="184.5" r="1.75"/>
<circle cx="696.0" cy="184.5" r="1.75"/>
<circle cx="699.3" cy="184.5" r="1.75"/>
<circle cx="704.3" cy="184.5" r="1.75"/>
<circle cx="728.2" cy="184.5" r="1.75"/>
<circle cx="689.3" cy="187.0" r="1.75"/>
<circle cx="698.5" cy="187.0" r="1.75"/>
<circle cx="712.7" cy="187.0" r="1.75"/>
<circle cx="718.0" cy="187.0" r="1.75"/>
<circle cx="685.7" cy="189.4" r="1.75"/>
<circle cx="687.2" cy="189.4" r="1.75"/>
<circle cx="691.0" cy="189.4" r="1.75"/>
<circle cx="692.3" cy="189.4" r="1.75"/>
<circle cx="733.0" cy="191.9" r="1.75"/>
<circle cx="686.0" cy="194.4" r="1.75"/>
<circle cx="703.5" cy="194.4" r="1.75"/>
<circle cx="711.5" cy="194.4" r="1.75"/>
<circle cx="719.8" cy="196.9" r="1.75"/>
<circle cx="724.7" cy="196.9" r="1.75"/>
<circle cx="697.7" cy="199.3" r="1.75"/>
<circle cx="717.3" cy="201.8" r="1.75"/>
<circle cx="730.5" cy="201.8" r="1.75"/>
<circle cx="696.5" cy="204.3" r="1.75"/>
<circle cx="719.3" cy="204.3" r="1.75"/>
<circle cx="692.7" cy="206.8" r="1.75"/>
<circle cx="694.7" cy="211.7" r="1.75"/>
<circle cx="741.3" cy="221.6" r="1.75"/>
<circle cx="750.5" cy="164.7" r="1.75"/>
<circle cx="745.5" cy="179.6" r="1.75"/>
<circle cx="747.7" cy="179.6" r="1.75"/>
<circle cx="744.7" cy="191.9" r="1.75"/>
<circle cx="750.0" cy="194.4" r="1.75"/>
<circle cx="752.5" cy="187.0" r="1.75"/>
<circle cx="755.0" cy="177.1" r="1.75"/>
<circle cx="756.3" cy="184.5" r="1.75"/>
<circle cx="758.0" cy="184.5" r="1.75"/>
<circle cx="758.8" cy="187.0" r="1.75"/>
<circle cx="760.2" cy="189.4" r="1.75"/>
<circle cx="762.7" cy="184.5" r="1.75"/>
<circle cx="764.7" cy="184.5" r="1.75"/>
<circle cx="763.8" cy="191.9" r="1.75"/>
<circle cx="765.8" cy="172.1" r="1.75"/>
<circle cx="768.3" cy="172.1" r="1.75"/>
<circle cx="769.2" cy="174.6" r="1.75"/>
<circle cx="768.3" cy="177.1" r="1.75"/>
<circle cx="766.3" cy="194.4" r="1.75"/>
<circle cx="770.2" cy="194.4" r="1.75"/>
<circle cx="771.7" cy="167.2" r="1.75"/>
<circle cx="771.3" cy="182.0" r="1.75"/>
<circle cx="772.7" cy="184.5" r="1.75"/>
<circle cx="775.5" cy="177.1" r="1.75"/>
<circle cx="774.3" cy="191.9" r="1.75"/>
<circle cx="775.8" cy="189.4" r="1.75"/>
<circle cx="777.2" cy="187.0" r="1.75"/>
<circle cx="779.3" cy="182.0" r="1.75"/>
<circle cx="780.5" cy="179.6" r="1.75"/>
<circle cx="781.3" cy="177.1" r="1.75"/>
<circle cx="782.5" cy="194.4" r="1.75"/>
<circle cx="783.3" cy="159.8" r="1.75"/>
<circle cx="784.7" cy="172.1" r="1.75"/>
<circle cx="786.7" cy="177.1" r="1.75"/>
<circle cx="788.8" cy="172.1" r="1.75"/>
<circle cx="785.5" cy="184.5" r="1.75"/>
<circle cx="785.0" cy="187.0" r="1.75"/>
<circle cx="793.8" cy="182.0" r="1.75"/>
<circle cx="792.5" cy="187.0" r="1.75"/>
<circle cx="792.2" cy="189.4" r="1.75"/>
<circle cx="793.3" cy="191.9" r="1.75"/>
<circle cx="795.2" cy="157.3" r="1.75"/>
<circle cx="796.3" cy="187.0" r="1.75"/>
<circle cx="796.7" cy="164.7" r="1.75"/>
<circle cx="798.3" cy="167.2" r="1.75"/>
<circle cx="798.0" cy="194.4" r="1.75"/>
<circle cx="799.7" cy="184.5" r="1.75"/>
<circle cx="800.5" cy="187.0" r="1.75"/>
<circle cx="800.2" cy="174.6" r="1.75"/>
<circle cx="801.8" cy="177.1" r="1.75"/>
<circle cx="802.7" cy="167.2" r="1.75"/>
<circle cx="803.5" cy="169.7" r="1.75"/>
<circle cx="803.3" cy="187.0" r="1.75"/>
<circle cx="804.7" cy="147.4" r="1.75"/>
<circle cx="805.5" cy="162.2" r="1.75"/>
<circle cx="805.8" cy="184.5" r="1.75"/>
<circle cx="806.3" cy="191.9" r="1.75"/>
<circle cx="807.7" cy="159.8" r="1.75"/>
<circle cx="808.5" cy="157.3" r="1.75"/>
<circle cx="810.2" cy="154.8" r="1.75"/>
<circle cx="809.7" cy="152.3" r="1.75"/>
<circle cx="812.2" cy="182.0" r="1.75"/>
<circle cx="811.3" cy="187.0" r="1.75"/>
<circle cx="815.5" cy="164.7" r="1.75"/>
<circle cx="871.0" cy="167.2" r="1.75"/>
<circle cx="873.0" cy="169.7" r="1.75"/>
<circle cx="876.0" cy="167.2" r="1.75"/>
<circle cx="879.7" cy="182.0" r="1.75"/>
<circle cx="880.5" cy="184.5" r="1.75"/>
<circle cx="875.0" cy="184.5" r="1.75"/>
<circle cx="878.3" cy="189.4" r="1.75"/>
<circle cx="869.7" cy="191.9" r="1.75"/>
<circle cx="854.7" cy="187.0" r="1.75"/>
<circle cx="853.0" cy="189.4" r="1.75"/>
<circle cx="849.2" cy="191.9" r="1.75"/>
<circle cx="852.5" cy="194.4" r="1.75"/>
<circle cx="842.5" cy="194.4" r="1.75"/>
<circle cx="837.5" cy="194.4" r="1.75"/>
<circle cx="834.7" cy="194.4" r="1.75"/>
<circle cx="767.5" cy="196.9" r="1.75"/>
<circle cx="801.3" cy="196.9" r="1.75"/>
<circle cx="760.2" cy="199.3" r="1.75"/>
<circle cx="749.7" cy="201.8" r="1.75"/>
<circle cx="766.7" cy="201.8" r="1.75"/>
<circle cx="777.5" cy="201.8" r="1.75"/>
<circle cx="790.0" cy="201.8" r="1.75"/>
<circle cx="791.0" cy="204.3" r="1.75"/>
<circle cx="746.3" cy="204.3" r="1.75"/>
<circle cx="755.5" cy="206.8" r="1.75"/>
<circle cx="761.8" cy="206.8" r="1.75"/>
<circle cx="747.2" cy="209.2" r="1.75"/>
<circle cx="749.3" cy="209.2" r="1.75"/>
<circle cx="752.2" cy="209.2" r="1.75"/>
<circle cx="773.5" cy="209.2" r="1.75"/>
<circle cx="787.5" cy="209.2" r="1.75"/>
<circle cx="807.2" cy="209.2" r="1.75"/>
<circle cx="810.8" cy="209.2" r="1.75"/>
<circle cx="753.0" cy="211.7" r="1.75"/>
<circle cx="761.3" cy="211.7" r="1.75"/>
<circle cx="763.3" cy="211.7" r="1.75"/>
<circle cx="795.8" cy="211.7" r="1.75"/>
<circle cx="757.2" cy="216.7" r="1.75"/>
<circle cx="798.8" cy="216.7" r="1.75"/>
<circle cx="789.3" cy="216.7" r="1.75"/>
<circle cx="745.5" cy="219.2" r="1.75"/>
<circle cx="754.3" cy="219.2" r="1.75"/>
<circle cx="778.3" cy="219.2" r="1.75"/>
<circle cx="787.2" cy="219.2" r="1.75"/>
<circle cx="751.3" cy="221.6" r="1.75"/>
<circle cx="756.8" cy="221.6" r="1.75"/>
<circle cx="764.3" cy="221.6" r="1.75"/>
<circle cx="780.0" cy="221.6" r="1.75"/>
<circle cx="783.8" cy="221.6" r="1.75"/>
<circle cx="773.8" cy="226.6" r="1.75"/>
<circle cx="753.8" cy="231.5" r="1.75"/>
<circle cx="791.3" cy="231.5" r="1.75"/>
<circle cx="788.3" cy="234.0" r="1.75"/>
<circle cx="812.7" cy="231.5" r="1.75"/>
<circle cx="813.5" cy="199.3" r="1.75"/>
<circle cx="818.8" cy="199.3" r="1.75"/>
<circle cx="830.5" cy="199.3" r="1.75"/>
<circle cx="834.3" cy="196.9" r="1.75"/>
<circle cx="868.8" cy="199.3" r="1.75"/>
<circle cx="823.5" cy="201.8" r="1.75"/>
<circle cx="829.7" cy="204.3" r="1.75"/>
<circle cx="847.7" cy="201.8" r="1.75"/>
<circle cx="842.7" cy="204.3" r="1.75"/>
<circle cx="860.8" cy="204.3" r="1.75"/>
<circle cx="877.2" cy="201.8" r="1.75"/>
<circle cx="837.7" cy="206.8" r="1.75"/>
<circle cx="850.5" cy="206.8" r="1.75"/>
<circle cx="873.3" cy="206.8" r="1.75"/>
<circle cx="875.8" cy="206.8" r="1.75"/>
<circle cx="857.5" cy="209.2" r="1.75"/>
<circle cx="831.0" cy="211.7" r="1.75"/>
<circle cx="840.8" cy="211.7" r="1.75"/>
<circle cx="856.3" cy="211.7" r="1.75"/>
<circle cx="820.8" cy="214.2" r="1.75"/>
<circle cx="877.2" cy="216.7" r="1.75"/>
<circle cx="815.8" cy="219.2" r="1.75"/>
<circle cx="824.7" cy="219.2" r="1.75"/>
<circle cx="835.5" cy="219.2" r="1.75"/>
<circle cx="862.2" cy="219.2" r="1.75"/>
<circle cx="878.3" cy="219.2" r="1.75"/>
<circle cx="826.8" cy="221.6" r="1.75"/>
<circle cx="834.3" cy="221.6" r="1.75"/>
<circle cx="840.2" cy="221.6" r="1.75"/>
<circle cx="871.3" cy="221.6" r="1.75"/>
<circle cx="879.7" cy="221.6" r="1.75"/>
<circle cx="829.3" cy="224.1" r="1.75"/>
<circle cx="833.0" cy="224.1" r="1.75"/>
<circle cx="838.5" cy="224.1" r="1.75"/>
<circle cx="859.3" cy="224.1" r="1.75"/>
<circle cx="866.3" cy="224.1" r="1.75"/>
<circle cx="868.3" cy="224.1" r="1.75"/>
<circle cx="843.8" cy="226.6" r="1.75"/>
<circle cx="856.3" cy="226.6" r="1.75"/>
<circle cx="858.0" cy="226.6" r="1.75"/>
<circle cx="865.5" cy="226.6" r="1.75"/>
<circle cx="870.5" cy="226.6" r="1.75"/>
<circle cx="817.2" cy="229.1" r="1.75"/>
<circle cx="824.2" cy="229.1" r="1.75"/>
<circle cx="828.8" cy="229.1" r="1.75"/>
<circle cx="831.3" cy="229.1" r="1.75"/>
<circle cx="834.2" cy="229.1" r="1.75"/>
<circle cx="841.7" cy="229.1" r="1.75"/>
<circle cx="845.5" cy="231.5" r="1.75"/>
<circle cx="851.7" cy="231.5" r="1.75"/>
<circle cx="867.2" cy="231.5" r="1.75"/>
<circle cx="872.2" cy="231.5" r="1.75"/>
<circle cx="825.2" cy="236.5" r="1.75"/>
<circle cx="819.7" cy="238.9" r="1.75"/>
<circle cx="820.2" cy="241.4" r="1.75"/>
<circle cx="839.2" cy="238.9" r="1.75"/>
<circle cx="851.0" cy="238.9" r="1.75"/>
<circle cx="850.2" cy="241.4" r="1.75"/>
<circle cx="864.2" cy="241.4" r="1.75"/>
<circle cx="817.5" cy="243.9" r="1.75"/>
<circle cx="845.5" cy="243.9" r="1.75"/>
<circle cx="846.3" cy="246.4" r="1.75"/>
<circle cx="848.5" cy="246.4" r="1.75"/>
<circle cx="833.3" cy="246.4" r="1.75"/>
<circle cx="832.2" cy="248.8" r="1.75"/>
<circle cx="826.0" cy="253.8" r="1.75"/>
<circle cx="852.2" cy="253.8" r="1.75"/>
<circle cx="857.7" cy="253.8" r="1.75"/>
<circle cx="814.7" cy="256.3" r="1.75"/>
<circle cx="847.2" cy="258.8" r="1.75"/>
<circle cx="863.5" cy="258.8" r="1.75"/>
<circle cx="862.7" cy="261.2" r="1.75"/>
<circle cx="822.2" cy="261.2" r="1.75"/>
<circle cx="822.5" cy="263.7" r="1.75"/>
<circle cx="816.7" cy="263.7" r="1.75"/>
<circle cx="818.3" cy="266.2" r="1.75"/>
<circle cx="827.7" cy="263.7" r="1.75"/>
<circle cx="843.0" cy="263.7" r="1.75"/>
<circle cx="844.7" cy="263.7" r="1.75"/>
<circle cx="853.8" cy="266.2" r="1.75"/>
<circle cx="855.2" cy="266.2" r="1.75"/>
<circle cx="866.3" cy="266.2" r="1.75"/>
<circle cx="874.2" cy="263.7" r="1.75"/>
<circle cx="839.7" cy="271.1" r="1.75"/>
<circle cx="827.2" cy="276.1" r="1.75"/>
<circle cx="821.3" cy="278.6" r="1.75"/>
<circle cx="859.2" cy="281.0" r="1.75"/>
<circle cx="813.8" cy="286.0" r="1.75"/>
<circle cx="836.3" cy="295.9" r="1.75"/>
<circle cx="421.2" cy="135.0" r="1.75"/>
<circle cx="423.2" cy="135.0" r="1.75"/>
<circle cx="442.8" cy="144.9" r="1.75"/>
<circle cx="278.8" cy="102.8" r="1.75"/>
</g>
<path d="M55 360.5H881" stroke="#555" stroke-width="1" fill="none"/>
<path d="M60.5 30V361" stroke="#555" stroke-width="1" fill="none"/>
<path d="M55 30.5H60" stroke="#555" stroke-width="1"/>
<text class="yl" x="50" y="34.5">90F</text>
<path d="M55 58H60" stroke="#555" stroke-width="1"/>
<text class="yl" x="50" y="62">88F</text>
<path d="M55 85.5H60" stroke="#555" stroke-width="1"/>
<text class="yl" x="50" y="89.5">86F</text>
<path d="M55 113H60" stroke="#555" stroke-width="1"/>
<text class="yl" x="50" y="117">84F</text>
<path d="M55 140.5H60" stroke="#555" stroke-width="1"/>
<text class="yl" x="50" y="144.5">82F</text>
<path d="M55 168H60" stroke="#555" stroke-width="1"/>
<text class="yl" x="50" y="172">80F</text>
<path d="M55 195.5H60" stroke="#555" stroke-width="1"/>
<text class="yl" x="50" y="199.5">78F</text>
<path d="M55 223H60" stroke="#555" stroke-width="1"/>
<text class="yl" x="50" y="227">76F</text>
<path d="M55 250.5H60" stroke="#555" stroke-width="1"/>
<text class="yl" x="50" y="254.5">74F</text>
<path d="M55 278H60" stroke="#555" stroke-width="1"/>
<text class="yl" x="50" y="282">72F</text>
<path d="M55 305.5H60" stroke="#555" stroke-width="1"/>
<text class="yl" x="50" y="309.5">70F</text>
<path d="M55 333H60" stroke="#555" stroke-width="1"/>
<text class="yl" x="50" y="337">68F</text>
<text class="yl" x="50" y="364.5">66F</text>
<text class="xl" x="94.7" y="376">Jan</text>
<text class="xl" x="163.0" y="376">Feb</text>
<text class="xl" x="231.3" y="376">Mar</text>
<text class="xl" x="299.7" y="376">Apr</text>
<text class="xl" x="368.0" y="376">May</text>
<text class="xl" x="436.3" y="376">Jun</text>
<text class="xl" x="504.7" y="376">Jul</text>
<text class="xl" x="573.0" y="376">Aug</text>
<text class="xl" x="641.3" y="376">Sep</text>
<text class="xl" x="709.7" y="376">Oct</text>
<text class="xl" x="778.0" y="376">Nov</text>
<text class="xl" x="846.3" y="376">Dec</text>
<text x="305.7" y="22" font-size="17.3" fill="#111" textLength="288.6" lengthAdjust="spacingAndGlyphs">Monthly Mean Temperatures 1901 - 2009</text>
<text transform="translate(18.9,194.2) rotate(-90)" font-size="13" fill="#666" text-anchor="middle">Temperature</text>
<text x="11.3" y="395" font-size="10.33" fill="#aaa">Latitude 15.25 Longitude 105.75</text>
<text x="878.5" y="395" font-size="10.15" fill="#aaa" text-anchor="end">worldspecies.org</text>
</svg></body></html>
